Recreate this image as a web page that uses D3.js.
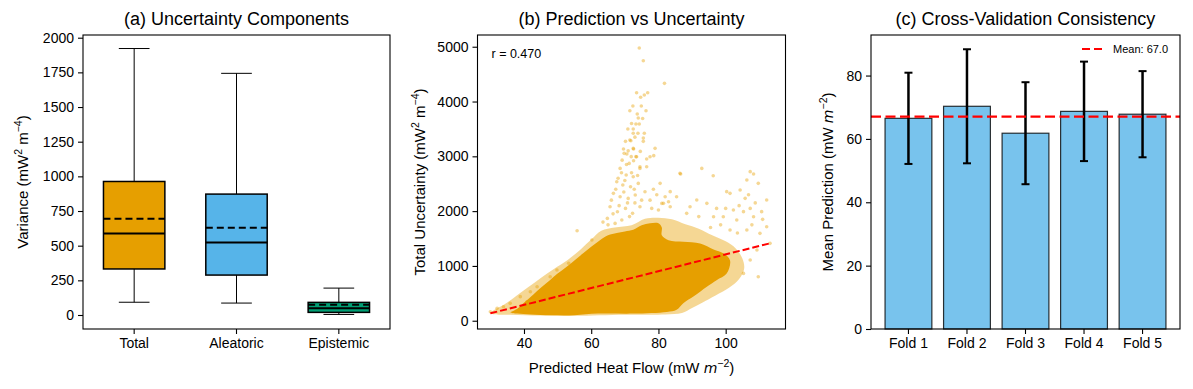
<!DOCTYPE html>
<html>
<head>
<meta charset="utf-8">
<script src="https://cdn.jsdelivr.net/npm/d3@7"></script>
<style>
body { margin: 0; background: #fff; }
svg { font-family: "Liberation Sans", Arial, sans-serif; }
.tick text { font-size: 14px; fill: #000; }
.tick line { stroke: #000; }
</style>
</head>
<body>
<svg id="chart" width="1193" height="389"></svg>
<script>
// ---- (a) box statistics ----
var boxCategories = ["Total", "Aleatoric", "Epistemic"];
var boxColors = ["#E69F00", "#56B4E9", "#009E73"];
var whiskerLow = [92, 86, 4];
var q1 = [332, 288, 19];
var medians = [587, 523, 48];
var means = [694, 629, 74];
var q3 = [963, 872, 91];
var whiskerHigh = [1922, 1743, 194];
var boxTicks = [0, 250, 500, 750, 1000, 1250, 1500, 1750, 2000];

// ---- (b) scatter: dense core outline, lighter fringe outline, sparse points ----
var coreRegion = [[36,150],[38,220],[40,330],[42.8,480],[45,600],[47.7,740],[50,860],[52.7,985],[55,1100],[57.6,1230],[60,1350],[62.6,1470],[65,1560],[67.6,1600],[70,1630],[72.5,1660],[75,1740],[77.5,1780],[80,1780],[81,1700],[81,1560],[83,1470],[87.4,1440],[92.4,1410],[96.4,1300],[99.3,1230],[101.3,1100],[100.3,860],[97.3,740],[94.4,620],[90.4,440],[87.4,320],[85.4,200],[82.5,160],[72.5,130],[62,130],[55,100],[48,100],[42,115],[38,130]];
var fringeRegion = [[30,130],[31,190],[34,290],[37,420],[41,600],[45,780],[49,950],[53,1110],[57,1310],[60,1480],[63,1640],[67,1700],[72,1740],[76,1860],[80,1880],[84,1850],[88,1760],[92,1680],[96,1560],[100,1450],[103,1320],[105,1130],[105.5,950],[104,760],[101,600],[97,460],[93,330],[90,230],[87,140],[82,115],[70,110],[55,90],[45,95],[36,110]];
var sparsePoints = [
  [74.3,4976],[75.5,4745],[81.8,4332],[73.5,4161],[74.7,4077],[76.8,4161],[75.8,4120],[72.4,3918],[74.9,3918],[73.7,3772],
  [76.3,3832],[71.5,3832],[75.3,3691],[73.3,3589],[74.3,3589],[72.5,3498],[70.9,3498],[73.9,3420],[75.8,3420],[72.5,3420],
  [71.8,3285],[70.2,3273],[75.5,3334],[75.5,3273],[79.0,3146],[69.6,3133],[72.6,3133],[74.6,3090],[70.6,3042],[71.9,2994],
  [73.3,2994],[78.6,3012],[76.5,2950],[69.2,2930],[72.6,2920],[71.5,3297],[72.5,3145],[69.8,3054],[73.5,2993],[71.3,2871],
  [68.6,2780],[74.5,2780],[76.5,2810],[70.4,2658],[72.5,2628],[67.6,2537],[69.4,2476],[71.7,2445],[74.0,2506],[66.6,2324],
  [68.6,2263],[71.0,2232],[73.1,2293],[76.0,2354],[65.6,2080],[67.8,1989],[70.2,2050],[72.3,1959],[64.8,1867],[67.1,1776],
  [69.1,1837],[74.5,2080],[82.0,2263],[83.0,2172],[81.0,2141],[83.5,2080],[80.0,2020],[86.4,2689],[92.9,2780],[96.3,2646],
  [55.8,1643],[107.3,2720],[108.3,2677],[109.7,2507],[106.3,2568],[104.3,2385],[101.3,2324],[100.3,2355],[105.8,2233],[107.3,2050],
  [105.3,1990],[102.3,2020],[110.7,1990],[112.2,2203],[108.3,1898],[103.3,1838],[99.3,1898],[97.3,2050],[96.4,1898],[94.4,2142],
  [86.6,2677],[83.5,2355],[109.7,803],[113.2,1412],[112.2,1716],[110.2,1594],[106.3,1655],[101.3,1655],[107.3,1108],[109.3,1290],
  [105.3,864],[91.4,2203],[89.4,2081],[88.4,1959],[85.4,2263],[81.5,2142],[80.5,2507],[77.5,2993],[74.5,2811],[60.2,1473],
  [43.9,621],[41.9,530],[38.9,439],[35.9,317],[32.0,226],[30.0,165],[47.8,803],[49.8,925],[53.3,1047],[40.9,347],
  [33.9,256],[68.0,2600],[70.0,2560],[72.0,2700],[73.8,2650],[66.0,2200],[67.3,2400],[69.7,2350],[72.8,2400],[70.8,2150],
  [68.3,2100],[66.5,1950],[71.4,1900],[73.0,2150],[75.0,2200],[69.0,2700],[70.5,2850],[71.0,3100],[73.0,3350],[74.0,3700],
  [72.0,3600],[63.5,1800],[65.0,1750],[77.5,2200],[78.5,2400],[79.5,2300],[78.0,2050],[104.0,2100],[106.8,2300],[108.8,2150],
  [111.0,1850],[100.0,2050],[98.5,1750],[103.5,1600],[107.8,1750],[95.5,1700],[92.0,1900]
];
var fitLine = [[30, 135], [113, 1410]];
var corrLabel = "r = 0.470";
var scatterTicksX = [40, 60, 80, 100];
var scatterTicksY = [0, 1000, 2000, 3000, 4000, 5000];

// ---- (c) cross-validation folds ----
var folds = ["Fold 1", "Fold 2", "Fold 3", "Fold 4", "Fold 5"];
var foldMeans = [66.5, 70.3, 61.8, 68.7, 67.8];
var foldStd = [14.4, 18.0, 16.1, 15.7, 13.6];
var foldTicks = [0, 20, 40, 60, 80];

var svg = d3.select("#chart");
var plotTop = 35, h = 294;
var plain = d3.format("d");

function frame(g, w) {
    g.append("rect").attr("width", w).attr("height", h)
        .attr("fill", "none").attr("stroke", "#000").attr("stroke-width", 1.1);
}
function styleAxis(ax) {
    ax.select(".domain").remove();
    ax.selectAll(".tick line").attr("stroke-width", 1.1);
}
function title(g, w, txt) {
    g.append("text").attr("x", w / 2).attr("y", -10).attr("text-anchor", "middle")
        .style("font-size", "18px").text(txt);
}
// label built of plain / superscript / italic pieces
function richText(t, parts) {
    var shift = 0;
    parts.forEach(function(p) {
        var s = t.append("tspan").text(p.t);
        var want = p.sup ? -6 : 0;
        if (want !== shift) { s.attr("dy", want - shift); shift = want; }
        if (p.sup) s.style("font-size", "10.5px");
        if (p.it) s.style("font-style", "italic").style("font-family", "'DejaVu Sans', sans-serif").style("font-size", "14px");
    });
}

// ================= (a) =================
var wA = 307;
var gA = svg.append("g").attr("transform", "translate(83," + plotTop + ")");
var xA = d3.scaleBand().domain(boxCategories).range([0, wA]).paddingInner(0.4).paddingOuter(0.2);
var yA = d3.scaleLinear().domain([-101, 2019.5]).range([h, 0]);

boxCategories.forEach(function(c, i) {
    var x0 = xA(c), bw = xA.bandwidth(), cx = x0 + bw / 2, cap = bw / 4;
    var b = gA.append("g");
    b.append("line").attr("x1", cx).attr("x2", cx).attr("y1", yA(q3[i])).attr("y2", yA(whiskerHigh[i])).attr("stroke", "#000");
    b.append("line").attr("x1", cx).attr("x2", cx).attr("y1", yA(q1[i])).attr("y2", yA(whiskerLow[i])).attr("stroke", "#000");
    b.append("line").attr("x1", cx - cap).attr("x2", cx + cap).attr("y1", yA(whiskerHigh[i])).attr("y2", yA(whiskerHigh[i])).attr("stroke", "#000");
    b.append("line").attr("x1", cx - cap).attr("x2", cx + cap).attr("y1", yA(whiskerLow[i])).attr("y2", yA(whiskerLow[i])).attr("stroke", "#000");
    b.append("rect").attr("x", x0).attr("width", bw).attr("y", yA(q3[i])).attr("height", yA(q1[i]) - yA(q3[i]))
        .attr("fill", boxColors[i]).attr("stroke", "#000").attr("stroke-width", 1.5);
    b.append("line").attr("x1", x0).attr("x2", x0 + bw).attr("y1", yA(medians[i])).attr("y2", yA(medians[i]))
        .attr("stroke", "#000").attr("stroke-width", 2);
    b.append("line").attr("x1", x0).attr("x2", x0 + bw).attr("y1", yA(means[i])).attr("y2", yA(means[i]))
        .attr("stroke", "#000").attr("stroke-width", 2).attr("stroke-dasharray", "7,4");
});
styleAxis(gA.append("g").call(d3.axisLeft(yA).tickValues(boxTicks).tickFormat(plain).tickSize(5).tickPadding(4)));
styleAxis(gA.append("g").attr("transform", "translate(0," + h + ")")
    .call(d3.axisBottom(xA).tickSize(5).tickPadding(4)));
frame(gA, wA);
title(gA, wA, "(a) Uncertainty Components");
richText(gA.append("text").attr("transform", "translate(-55," + (h / 2) + ") rotate(-90)")
    .attr("text-anchor", "middle").style("font-size", "15px"),
    [{t: "Variance (mW"}, {t: "2", sup: true}, {t: " m"}, {t: "\u22124", sup: true}, {t: ")"}]);

// ================= (b) =================
var wB = 308;
var gB = svg.append("g").attr("transform", "translate(477.5," + plotTop + ")");
var xB = d3.scaleLinear().domain([26.17, 117.8]).range([0, wB]);
var yB = d3.scaleLinear().domain([-151, 5214]).range([h, 0]);
var outline = d3.line().x(function(d) { return xB(d[0]); }).y(function(d) { return yB(d[1]); })
    .curve(d3.curveCatmullRomClosed);

gB.append("path").datum(fringeRegion).attr("d", outline).attr("fill", "#E69F00").attr("opacity", 0.42);
gB.selectAll(".pt").data(sparsePoints).enter().append("circle")
    .attr("cx", function(d) { return xB(d[0]); })
    .attr("cy", function(d) { return yB(d[1]); })
    .attr("r", 1.8).attr("fill", "#E69F00").attr("opacity", 0.42);
gB.append("path").datum(coreRegion).attr("d", outline).attr("fill", "#E69F00");
gB.append("path").datum(fitLine).attr("d", d3.line().x(function(d) { return xB(d[0]); }).y(function(d) { return yB(d[1]); }))
    .attr("fill", "none").attr("stroke", "#ff0000").attr("stroke-width", 2).attr("stroke-dasharray", "7,3");
gB.append("text").attr("x", 14).attr("y", 23).style("font-size", "12.5px").text(corrLabel);

styleAxis(gB.append("g").call(d3.axisLeft(yB).tickValues(scatterTicksY).tickFormat(plain).tickSize(5).tickPadding(4)));
styleAxis(gB.append("g").attr("transform", "translate(0," + h + ")")
    .call(d3.axisBottom(xB).tickValues(scatterTicksX).tickFormat(plain).tickSize(5).tickPadding(4)));
frame(gB, wB);
title(gB, wB, "(b) Prediction vs Uncertainty");
richText(gB.append("text").attr("transform", "translate(-53," + (h / 2) + ") rotate(-90)")
    .attr("text-anchor", "middle").style("font-size", "15px"),
    [{t: "Total Uncertainty (mW"}, {t: "2", sup: true}, {t: " m"}, {t: "\u22124", sup: true}, {t: ")"}]);
richText(gB.append("text").attr("x", wB / 2).attr("y", h + 44).attr("text-anchor", "middle").style("font-size", "15px"),
    [{t: "Predicted Heat Flow (mW "}, {t: "m", it: true}, {t: "\u22122", sup: true}, {t: ")"}]);

// ================= (c) =================
var wC = 309;
var gC = svg.append("g").attr("transform", "translate(871," + plotTop + ")");
var xC = d3.scaleBand().domain(folds).range([0, wC]).paddingInner(0.2).paddingOuter(0.24);
var yC = d3.scaleLinear().domain([0, 92.8]).range([h, 0]);
var meanAll = d3.mean(foldMeans);

gC.selectAll(".bar").data(folds).enter().append("rect")
    .attr("x", function(d) { return xC(d); })
    .attr("width", xC.bandwidth())
    .attr("y", function(d, i) { return yC(foldMeans[i]); })
    .attr("height", function(d, i) { return h - yC(foldMeans[i]); })
    .attr("fill", "#56B4E9").attr("fill-opacity", 0.8)
    .attr("stroke", "#000").attr("stroke-opacity", 0.8).attr("stroke-width", 1.2);

folds.forEach(function(f, i) {
    var cx = xC(f) + xC.bandwidth() / 2;
    var lo = yC(foldMeans[i] - foldStd[i]), hi = yC(foldMeans[i] + foldStd[i]);
    gC.append("line").attr("x1", cx).attr("x2", cx).attr("y1", lo).attr("y2", hi).attr("stroke", "#000").attr("stroke-width", 2.5);
    [lo, hi].forEach(function(yy) {
        gC.append("line").attr("x1", cx - 4).attr("x2", cx + 4).attr("y1", yy).attr("y2", yy).attr("stroke", "#000").attr("stroke-width", 2);
    });
});
gC.append("line").attr("x1", 0).attr("x2", wC).attr("y1", yC(meanAll)).attr("y2", yC(meanAll))
    .attr("stroke", "#ff0000").attr("stroke-width", 2.2).attr("stroke-dasharray", "10,4.5");

// legend
gC.append("line").attr("x1", 211).attr("x2", 231).attr("y1", 14).attr("y2", 14)
    .attr("stroke", "#ff0000").attr("stroke-width", 2.2).attr("stroke-dasharray", "8,4");
gC.append("text").attr("x", 242).attr("y", 18).style("font-size", "11px").text("Mean: " + meanAll.toFixed(1));

styleAxis(gC.append("g").call(d3.axisLeft(yC).tickValues(foldTicks).tickSize(5).tickPadding(4)));
styleAxis(gC.append("g").attr("transform", "translate(0," + h + ")")
    .call(d3.axisBottom(xC).tickSize(5).tickPadding(4)));
frame(gC, wC);
title(gC, wC, "(c) Cross-Validation Consistency");
richText(gC.append("text").attr("transform", "translate(-38," + (h / 2) + ") rotate(-90)")
    .attr("text-anchor", "middle").style("font-size", "15px"),
    [{t: "Mean Prediction (mW "}, {t: "m", it: true}, {t: "\u22122", sup: true}, {t: ")"}]);
</script>
</body>
</html>
